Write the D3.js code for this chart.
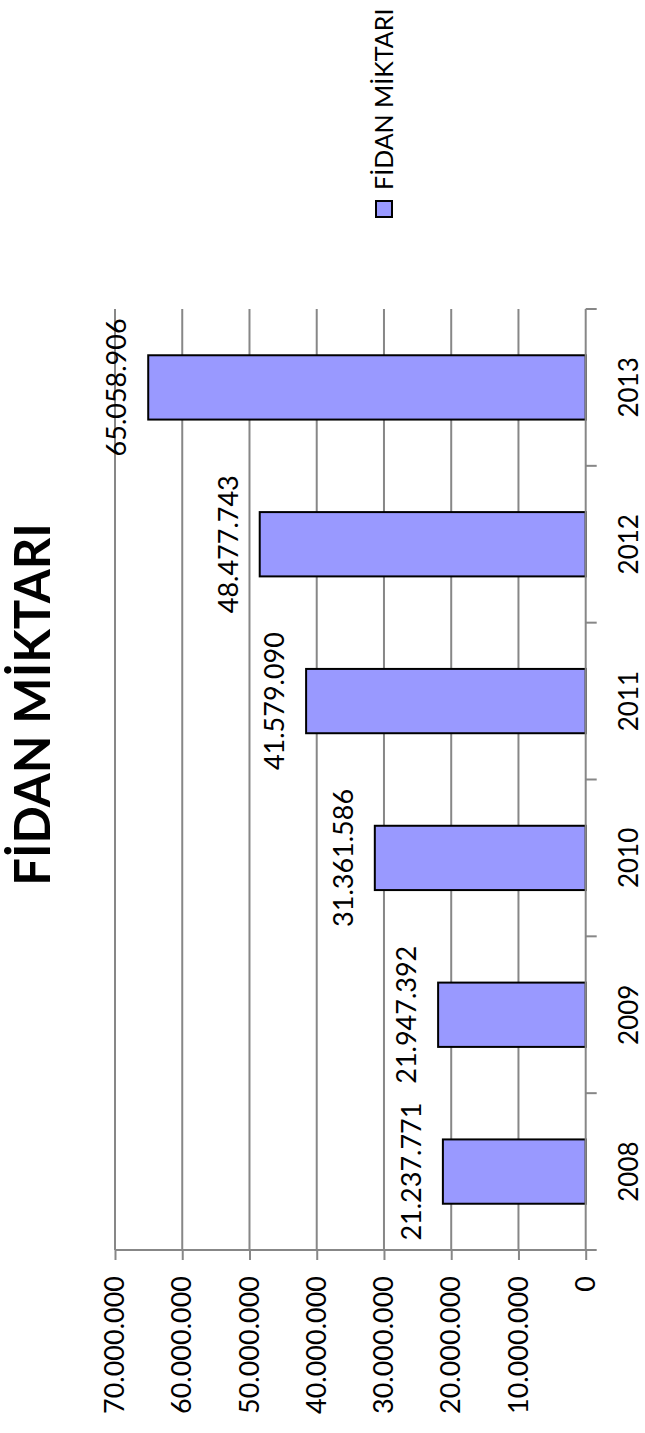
<!DOCTYPE html>
<html>
<head>
<meta charset="utf-8">
<script src="https://cdn.jsdelivr.net/npm/d3@7"></script>
<style>
  body { margin: 0; background: #fff; }
  svg { display: block; font-family: Lato, "Open Sans", sans-serif; }
</style>
</head>
<body>
<div id="chart"></div>
<script>
const years = ['2008', '2009', '2010', '2011', '2012', '2013'];
const fidan = [21237771, 21947392, 31361586, 41579090, 48477743, 65058906];
const yTicks = [0, 10000000, 20000000, 30000000, 40000000, 50000000, 60000000, 70000000];
const title = 'FİDAN MİKTARI';
const seriesName = 'FİDAN MİKTARI';

const W = 645;
const H = 1433;
const gridColor = '#878787';
const barColor = '#9999ff';

const tr = d3.formatLocale({ decimal: ',', thousands: '.', grouping: [3], currency: ['', ''] });
const fmt = tr.format(',d');

const svg = d3.select('#chart').append('svg').attr('width', W).attr('height', H);
// whole chart is drawn lying on its side: local x runs bottom->top of the page
const g = svg.append('g').attr('transform', 'translate(0,' + H + ') rotate(-90)');

const xScale = d3.scaleBand().domain(years).range([183, 1124]).paddingInner(0.59).paddingOuter(0.295);
const yScale = d3.scaleLinear().domain([0, 70000000]).range([585.7, 115]);

// gridlines
g.append('g').selectAll('line')
    .data(yTicks.slice(1))
    .enter()
    .append('line')
    .attr('x1', 183).attr('x2', 1124)
    .attr('y1', d => yScale(d)).attr('y2', d => yScale(d))
    .attr('stroke', gridColor).attr('stroke-width', 2);

// bars
g.append('g').selectAll('rect')
    .data(fidan)
    .enter()
    .append('rect')
    .attr('x', (d, i) => xScale(years[i]))
    .attr('y', d => yScale(d))
    .attr('width', xScale.bandwidth())
    .attr('height', d => yScale(0) - yScale(d))
    .attr('fill', barColor)
    .attr('stroke', '#000')
    .attr('stroke-width', 2);

// value axis
const yAxis = d3.axisLeft(yScale).tickValues(yTicks).tickSize(10).tickPadding(16).tickFormat(fmt);
const ya = g.append('g').attr('transform', 'translate(183,0)').call(yAxis);
ya.select('.domain').attr('stroke', gridColor).attr('stroke-width', 2).attr('d', 'M0,' + yScale(70000000) + 'V' + yScale(0));
ya.selectAll('.tick line').attr('stroke', gridColor).attr('stroke-width', 2);
ya.selectAll('.tick text').attr('font-size', 27).attr('fill', '#000').attr('font-family', 'Lato, sans-serif');

// category axis
const xAxis = d3.axisBottom(xScale).tickSize(0).tickPadding(34);
const xa = g.append('g').attr('transform', 'translate(0,' + yScale(0) + ')').call(xAxis);
xa.select('.domain').attr('stroke', gridColor).attr('stroke-width', 2).attr('d', 'M183,0H1124');
xa.selectAll('.tick text').attr('font-size', 26).attr('fill', '#000').attr('font-family', 'Lato, sans-serif');
const half = (xScale.step() - xScale.bandwidth()) / 2;
const bounds = years.map(d => xScale(d) - half).concat([xScale(years[years.length - 1]) + xScale.bandwidth() + half]);
xa.selectAll('line.bound')
    .data(bounds)
    .enter()
    .append('line')
    .attr('class', 'bound')
    .attr('x1', d => d).attr('x2', d => d)
    .attr('y1', 0).attr('y2', 11)
    .attr('stroke', gridColor).attr('stroke-width', 2);

// data labels
g.append('g').selectAll('text')
    .data(fidan)
    .enter()
    .append('text')
    .attr('x', (d, i) => xScale(years[i]) + xScale.bandwidth() / 2)
    .attr('y', d => yScale(d) - 22)
    .attr('text-anchor', 'middle')
    .attr('font-size', 27)
    .text(d => fmt(d));

// title
g.append('text')
    .attr('x', H - 704.5)
    .attr('y', 50)
    .attr('text-anchor', 'middle')
    .attr('font-size', 49)
    .attr('font-weight', 'bold')
    .text(title);

// legend
const lg = g.append('g').attr('transform', 'translate(1215,375)');
lg.append('rect')
    .attr('x', 1).attr('y', 1)
    .attr('width', 16).attr('height', 16)
    .attr('fill', barColor)
    .attr('stroke', '#000')
    .attr('stroke-width', 2);
lg.append('text')
    .attr('x', 28)
    .attr('y', 18)
    .attr('font-size', 25)
    .text(seriesName);
</script>
</body>
</html>
